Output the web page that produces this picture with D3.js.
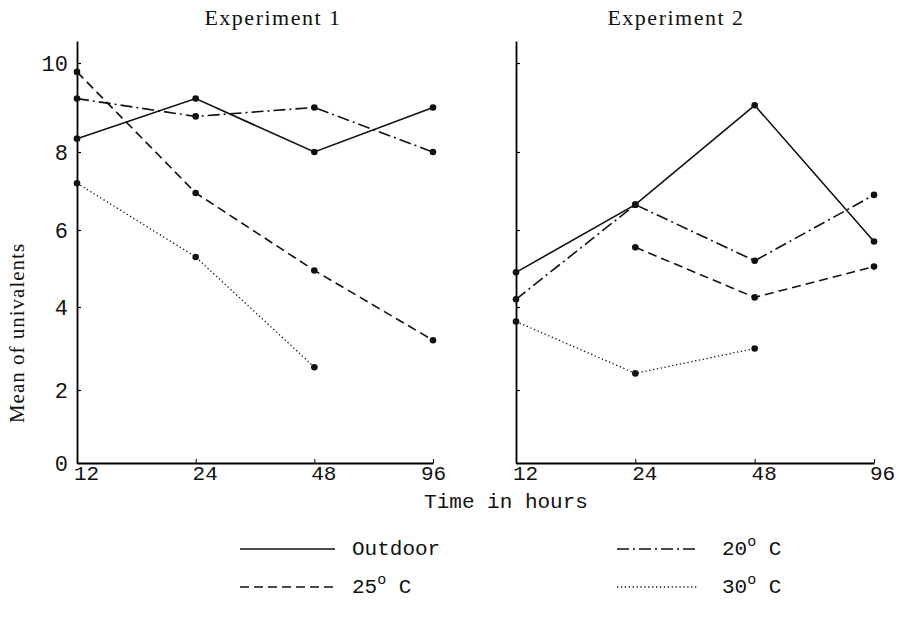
<!DOCTYPE html>
<html>
<head>
<meta charset="utf-8">
<title>Mean of univalents</title>
<style>
	body{ margin:0; background:#fff; }
	svg text{ fill:#111; }
	.serif{ font-family:"Liberation Serif","DejaVu Serif",serif; }
	.mono{ font-family:"Liberation Mono","DejaVu Sans Mono",monospace; }
</style>
</head>
<body>
<div id="chart"></div>
<script src="https://cdn.jsdelivr.net/npm/d3@7/dist/d3.min.js"></script>
<script type="text/javascript">

// time points (hours) - plotted evenly spaced
var hours = [12, 24, 48, 96];
var yTicks = [0, 2, 4, 6, 8, 10];
var panelTitles = ['Experiment 1', 'Experiment 2'];
var seriesNames = ['Outdoor', '20', '25', '30'];

// experiment 1
var outdoor1 = [8.3, 9.2, 8.0, 9.0];
var temp20_1 = [9.2, 8.8, 9.0, 8.0];
var temp25_1 = [9.8, 6.95, 4.95, 3.2];
var temp30_1 = [7.2, 5.3, 2.55, null];

// experiment 2
var outdoor2 = [4.9, 6.65, 9.05, 5.7];
var temp20_2 = [4.2, 6.65, 5.2, 6.9];
var temp25_2 = [null, 5.55, 4.25, 5.05];
var temp30_2 = [3.65, 2.4, 3.0, null];

var dashes = ['none', '12,4,2,4', '9,5', '1.3,2.6'];

var width = 900, height = 618;
var svg = d3.select('#chart').append('svg').attr('width', width).attr('height', height);

// hand drawn axis is uneven, so the scale follows the printed tick marks
var y = d3.scaleLinear()
	.domain([0, 2, 4, 6, 8, 10, 10.5])
	.range([463, 390, 307, 230, 152, 63, 41]);

var panels = [
	{title: panelTitles[0], x0: 77, x1: 433, titleX: 273, labels: true,
	 series: [outdoor1, temp20_1, temp25_1, temp30_1]},
	{title: panelTitles[1], x0: 516, x1: 874, titleX: 676, labels: false,
	 series: [outdoor2, temp20_2, temp25_2, temp30_2]}
];

panels.forEach(function(p, pi){
	var x = d3.scalePoint().domain(hours).range([p.x0, p.x1]);
	var g = svg.append('g');

	g.append('text').attr('class', 'serif')
		.attr('x', p.titleX).attr('y', 25)
		.attr('text-anchor', 'middle')
		.style('font-size', '22px').style('letter-spacing', '1.5px')
		.text(p.title);

	var yAxis = d3.axisLeft(y).tickValues(yTicks)
		.tickSize(-4).tickSizeOuter(0).tickPadding(9)
		.tickFormat(p.labels ? d3.format('d') : '');
	var ya = g.append('g').attr('transform', 'translate(' + p.x0 + ',0)').call(yAxis);
	ya.select('.domain').attr('stroke-width', 1.8);
	ya.selectAll('.tick line').attr('stroke-width', 1.2);
	ya.selectAll('.tick text').attr('class', 'mono').style('font-size', '22px').attr('fill', '#111');

	var xAxis = d3.axisBottom(x).tickSize(-4).tickSizeOuter(0).tickPadding(2);
	var xa = g.append('g').attr('transform', 'translate(0,' + y(0) + ')').call(xAxis);
	xa.select('.domain').attr('stroke-width', 1.8);
	xa.selectAll('.tick text').attr('class', 'mono').style('font-size', '21px')
		.attr('fill', '#111').attr('dx', function(d){ return d == 96 ? pi * 8 : 9; });

	p.series.forEach(function(vals, i){
		var pts = hours.map(function(h, j){ return {h: h, v: vals[j]}; })
			.filter(function(d){ return d.v != null; });
		var line = d3.line().x(function(d){ return x(d.h); }).y(function(d){ return y(d.v); });
		g.append('path').datum(pts)
			.attr('d', line)
			.attr('fill', 'none').attr('stroke', '#111')
			.attr('stroke-width', i == 3 ? 1.3 : 1.6)
			.attr('stroke-dasharray', dashes[i]);
		g.selectAll('.dot' + i).data(pts).enter().append('circle')
			.attr('cx', function(d){ return x(d.h); })
			.attr('cy', function(d){ return y(d.v); })
			.attr('r', 3.3).attr('fill', '#111');
	});
});

svg.append('text').attr('class', 'serif')
	.attr('transform', 'translate(24,333) rotate(-90)')
	.attr('text-anchor', 'middle')
	.style('font-size', '21px').style('letter-spacing', '1px')
	.text('Mean of univalents');

svg.append('text').attr('class', 'mono')
	.attr('x', 506).attr('y', 508).attr('text-anchor', 'middle')
	.style('font-size', '21px')
	.text('Time in hours');

// legend
var legendPos = [[240, 549], [617, 549], [240, 587], [617, 587]];
seriesNames.forEach(function(name, i){
	var lp = legendPos[i];
	svg.append('line')
		.attr('x1', lp[0]).attr('x2', lp[0] + (i % 2 ? 80 : 95))
		.attr('y1', lp[1]).attr('y2', lp[1])
		.attr('stroke', '#111').attr('stroke-width', i == 3 ? 1.3 : 1.6)
		.attr('stroke-dasharray', dashes[i]);
	var t = svg.append('text').attr('class', 'mono')
		.attr('x', lp[0] + (i % 2 ? 105 : 112)).attr('y', lp[1] + 6)
		.style('font-size', '21px');
	if(name == 'Outdoor'){
		t.text(name);
	} else {
		t.append('tspan').text(name);
		t.append('tspan').attr('dy', -9).style('font-size', '15px').text('o');
		t.append('tspan').attr('dy', 9).text(' C');
	}
});
</script>
</body>
</html>
